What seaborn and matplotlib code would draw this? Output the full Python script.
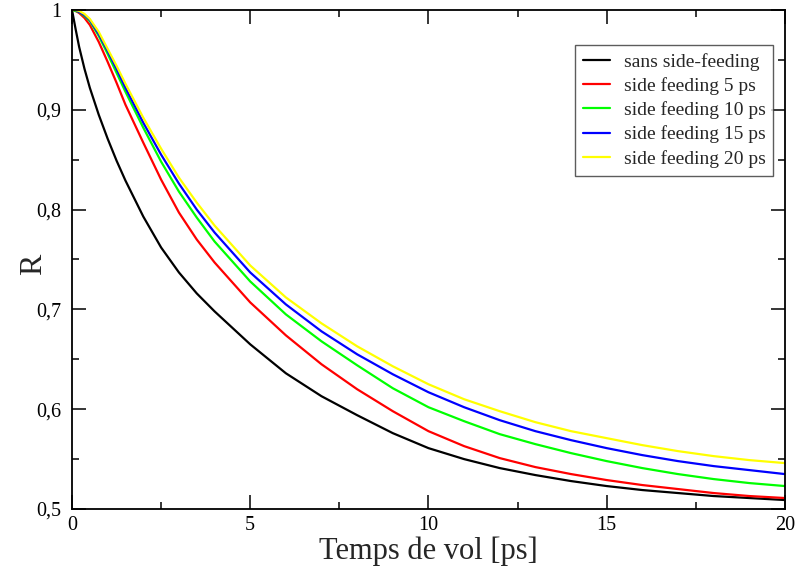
import matplotlib
matplotlib.use("Agg")
import matplotlib.pyplot as plt
import pandas as pd
import seaborn as sns
from matplotlib.ticker import FuncFormatter, MultipleLocator

# Values
t = [0, 0.1, 0.2, 0.35, 0.5, 0.75, 1, 1.25, 1.5, 2, 2.5, 3, 3.5, 4, 5, 6, 7,
     8, 9, 10, 11, 12, 13, 14, 15, 16, 17, 18, 19, 20]

sans_sf = [1.0, 0.981, 0.963, 0.941, 0.922, 0.895, 0.871, 0.849, 0.829, 0.793,
           0.762, 0.737, 0.716, 0.698, 0.665, 0.636, 0.613, 0.594, 0.576, 0.561,
           0.550, 0.541, 0.534, 0.528, 0.523, 0.519, 0.516, 0.513, 0.511, 0.509]
sf_5 = [1.0, 0.999, 0.997, 0.992, 0.985, 0.968, 0.948, 0.927, 0.905, 0.867,
        0.830, 0.797, 0.770, 0.747, 0.707, 0.674, 0.645, 0.620, 0.598, 0.578,
        0.563, 0.551, 0.542, 0.535, 0.529, 0.524, 0.520, 0.516, 0.513, 0.511]
sf_10 = [1.0, 0.999, 0.998, 0.994, 0.989, 0.974, 0.956, 0.937, 0.918, 0.882,
         0.848, 0.818, 0.792, 0.768, 0.728, 0.695, 0.668, 0.644, 0.621, 0.602,
         0.588, 0.575, 0.565, 0.556, 0.548, 0.541, 0.535, 0.530, 0.526, 0.523]
sf_15 = [1.0, 1.0, 0.998, 0.995, 0.990, 0.976, 0.959, 0.941, 0.922, 0.887,
         0.855, 0.826, 0.800, 0.777, 0.737, 0.705, 0.678, 0.655, 0.635, 0.617,
         0.602, 0.589, 0.578, 0.569, 0.561, 0.554, 0.548, 0.543, 0.539, 0.535]
sf_20 = [1.0, 1.0, 0.999, 0.996, 0.991, 0.978, 0.961, 0.944, 0.926, 0.892,
         0.861, 0.832, 0.807, 0.784, 0.744, 0.712, 0.686, 0.663, 0.643, 0.625,
         0.610, 0.598, 0.587, 0.578, 0.571, 0.564, 0.558, 0.553, 0.549, 0.546]

labels = ["sans side-feeding", "side feeding 5 ps", "side feeding 10 ps",
          "side feeding 15 ps", "side feeding 20 ps"]
colors = ["#000000", "#ff0000", "#00ff00", "#0000ff", "#ffff00"]
series = [sans_sf, sf_5, sf_10, sf_15, sf_20]

frames = [pd.DataFrame({"t": t, "R": vals, "courbe": name})
          for name, vals in zip(labels, series)]
df = pd.concat(frames, ignore_index=True)

sns.set_theme(style="ticks")
plt.rcParams["font.family"] = ["Liberation Serif", "DejaVu Serif"]

fig = plt.figure(figsize=(8.11, 5.70), dpi=100)
ax = fig.add_axes([0.0888, 0.107, 0.879, 0.8755])

sns.lineplot(data=df, x="t", y="R", hue="courbe", palette=colors,
             hue_order=labels, linewidth=1.6, ax=ax, legend=False)

ax.set_xlim(0, 20)
ax.set_ylim(0.5, 1.0)
ax.xaxis.set_major_locator(MultipleLocator(5))
ax.xaxis.set_minor_locator(MultipleLocator(2.5))
ax.yaxis.set_major_locator(MultipleLocator(0.1))
ax.yaxis.set_minor_locator(MultipleLocator(0.05))


def comma(v, pos):
    s = f"{v:g}"
    return s.replace(".", ",")


ax.xaxis.set_major_formatter(FuncFormatter(comma))
ax.yaxis.set_major_formatter(FuncFormatter(comma))

ax.tick_params(which="both", direction="in", top=True, right=True,
               colors="black", labelsize=14.5, width=1.1)
ax.tick_params(which="major", length=10)
ax.tick_params(which="minor", length=5)
ax.tick_params(axis="y", which="major", pad=8)
ax.tick_params(axis="x", which="major", pad=5)
for sp in ax.spines.values():
    sp.set_color("black")
    sp.set_linewidth(1.3)

ax.set_xlabel("Temps de vol [ps]", fontsize=22, labelpad=1)
ax.set_ylabel("R", fontsize=23)
ax.yaxis.set_label_coords(-0.034, 0.49)

handles = [plt.Line2D([], [], color=c, linewidth=1.6) for c in colors]
leg = ax.legend(handles, labels, loc="upper right",
                bbox_to_anchor=(0.984, 0.930), borderaxespad=0,
                fontsize=14, frameon=True, fancybox=False,
                edgecolor="#333333", handlelength=1.4, handletextpad=0.7,
                labelspacing=0.33, borderpad=0.4)
leg.get_frame().set_linewidth(1.0)

fig.savefig("out.png", dpi=100)
plt.close(fig)
